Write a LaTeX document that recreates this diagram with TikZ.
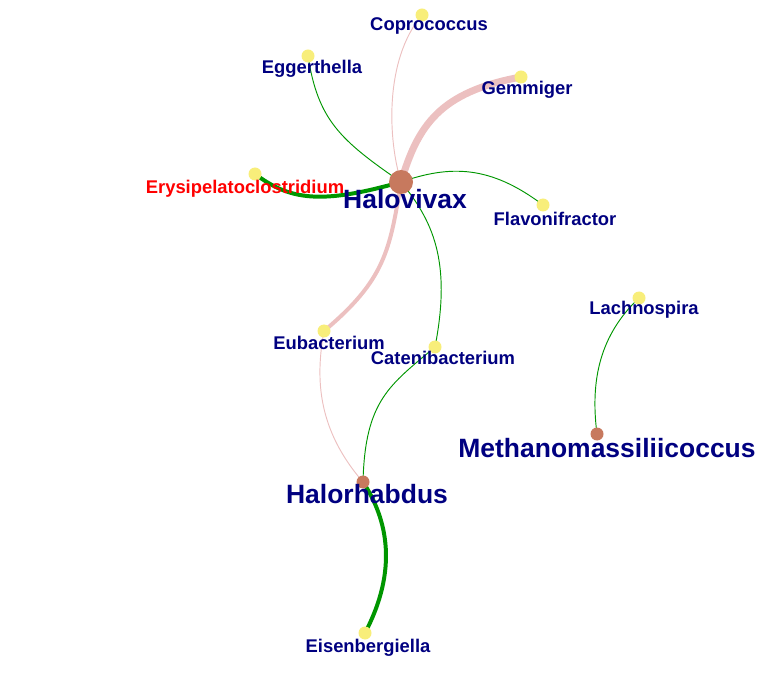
\documentclass[tikz,border=0pt]{standalone}
\usepackage{fontspec}
\setmainfont{Liberation Sans}
\usepackage{xcolor}
\usetikzlibrary{backgrounds}

\definecolor{labelblue}{RGB}{0,0,128}
\definecolor{linkpink}{RGB}{236,192,192}
\definecolor{linkgreen}{RGB}{0,150,0}
\definecolor{hubbrown}{RGB}{199,121,94}
\definecolor{leafyellow}{RGB}{248,238,122}

\begin{document}
\begin{tikzpicture}[x=0.03cm, y=-0.03cm,
	leaf/.style={shape=circle, fill=leafyellow, inner sep=0pt, minimum size=0.39cm},
	hub/.style={shape=circle, fill=hubbrown, inner sep=0pt, minimum size=0.39cm},
	tag/.style={anchor=base, text=labelblue, inner sep=0pt, font=\bfseries\fontsize{15.7}{18}\selectfont},
	bigtag/.style={tag, font=\bfseries\fontsize{22.6}{26}\selectfont},
	poslink/.style={draw=linkgreen, line width=0.8pt},
	neglink/.style={draw=linkpink, line width=0.8pt}]
	\useasboundingbox (0,0) rectangle (782,683);

	\node[hub, minimum size=0.72cm] (Hv) at (401, 182) {};
	\node[hub] (Hr) at (363, 482) {};
	\node[hub] (Mm) at (597, 434) {};

	\node[leaf] (Co) at (422, 15) {};
	\node[leaf] (Eg) at (308, 56) {};
	\node[leaf] (Gm) at (521, 77) {};
	\node[leaf] (Er) at (255, 174) {};
	\node[leaf] (Fl) at (543, 205) {};
	\node[leaf] (Eu) at (324, 331) {};
	\node[leaf] (Ca) at (435, 347) {};
	\node[leaf] (La) at (639, 298) {};
	\node[leaf] (Ei) at (365, 633) {};

	\node[tag] (CoL) at (429, 31) {Coprococcus};
	\node[tag] (EgL) at (312, 74) {Eggerthella};
	\node[tag] (GmL) at (527, 95) {Gemmiger};
	\node[tag, text=red] (ErL) at (245, 194) {Erysipelatoclostridium};
	\node[bigtag] (HvL) at (405, 209) {Halovivax};
	\node[tag] (FlL) at (555, 226) {Flavonifractor};
	\node[tag] (EuL) at (329, 350) {Eubacterium};
	\node[tag] (CaL) at (443, 365) {Catenibacterium};
	\node[tag] (LaL) at (644, 315) {Lachnospira};
	\node[bigtag] (MmL) at (607, 457) {Methanomassiliicoccus};
	\node[bigtag] (HrL) at (367, 503) {Halorhabdus};
	\node[tag] (EiL) at (368, 652) {Eisenbergiella};

	\begin{scope}[on background layer]
	\path[neglink] (Hv.center) .. controls (388, 140) and (384, 60) .. (Co.center);
	\path[poslink] (Eg.center) .. controls (318, 120) and (340, 140) .. (Hv.center);
	\path[neglink, line width=6pt] (Hv.center) .. controls (418, 125) and (440, 92) .. (Gm.center);
	\path[poslink, line width=3.4pt] (Er.center) .. controls (290, 200) and (320, 205) .. (Hv.center);
	\path[poslink] (Hv.center) .. controls (450, 165) and (490, 165) .. (Fl.center);
	\path[neglink, line width=3.4pt] (Hv.center) .. controls (390, 250) and (385, 280) .. (Eu.center);
	\path[poslink] (Hv.center) .. controls (432, 220) and (452, 260) .. (Ca.center);
	\path[neglink] (Eu.center) .. controls (315, 380) and (318, 430) .. (Hr.center);
	\path[poslink] (Ca.center) .. controls (390, 385) and (365, 400) .. (Hr.center);
	\path[poslink, line width=3.4pt] (Hr.center) .. controls (388, 520) and (398, 570) .. (Ei.center);
	\path[poslink] (La.center) .. controls (600, 335) and (590, 380) .. (Mm.center);
	\end{scope}
\end{tikzpicture}
\end{document}
